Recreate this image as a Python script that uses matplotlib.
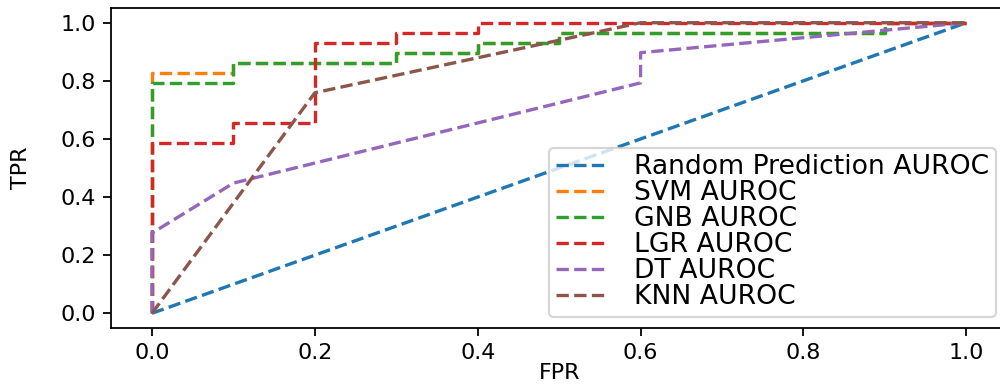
import matplotlib
matplotlib.use('Agg')
import matplotlib.pyplot as plt

# ROC curves (FPR, TPR)
rand_fpr = [0.0, 1.0]
rand_tpr = [0.0, 1.0]

svm_fpr = [0.0, 0.0, 0.1, 0.1, 0.3, 0.3, 0.4, 0.4, 0.5, 0.5, 0.9, 0.9, 1.0]
svm_tpr = [0.0, 0.828, 0.828, 0.862, 0.862, 0.897, 0.897, 0.931, 0.931, 0.966, 0.966, 1.0, 1.0]

gnb_fpr = [0.0, 0.0, 0.1, 0.1, 0.3, 0.3, 0.4, 0.4, 0.5, 0.5, 0.9, 0.9, 1.0]
gnb_tpr = [0.0, 0.793, 0.793, 0.862, 0.862, 0.897, 0.897, 0.931, 0.931, 0.966, 0.966, 1.0, 1.0]

lgr_fpr = [0.0, 0.0, 0.1, 0.1, 0.2, 0.2, 0.3, 0.3, 0.4, 0.4, 1.0]
lgr_tpr = [0.0, 0.586, 0.586, 0.655, 0.655, 0.931, 0.931, 0.966, 0.966, 1.0, 1.0]

dt_fpr = [0.0, 0.0, 0.1, 0.6, 0.6, 1.0]
dt_tpr = [0.0, 0.276, 0.448, 0.793, 0.897, 1.0]

knn_fpr = [0.0, 0.2, 0.6, 1.0]
knn_tpr = [0.0, 0.759, 1.0, 1.0]


def main():
    fig = plt.figure(figsize=(6.25, 2.41875), dpi=160)
    ax = fig.add_axes([0.1113, 0.153, 0.8957, 0.8258])

    ax.plot(rand_fpr, rand_tpr, linestyle='--', label='Random Prediction AUROC')
    ax.plot(svm_fpr, svm_tpr, linestyle='--', label='SVM AUROC')
    ax.plot(gnb_fpr, gnb_tpr, linestyle='--', label='GNB AUROC')
    ax.plot(lgr_fpr, lgr_tpr, linestyle='--', label='LGR AUROC')
    ax.plot(dt_fpr, dt_tpr, linestyle='--', label='DT AUROC')
    ax.plot(knn_fpr, knn_tpr, linestyle='--', label='KNN AUROC')

    ax.set_xlabel('FPR', labelpad=0)
    ax.set_ylabel('TPR', labelpad=13)
    ax.legend(loc='lower right', fontsize=12, labelspacing=0.0,
              handlelength=2.0, handletextpad=0.95, borderpad=0.25,
              borderaxespad=0.4)
    fig.savefig('out.png', dpi=160)


if __name__ == "__main__":
    main()
